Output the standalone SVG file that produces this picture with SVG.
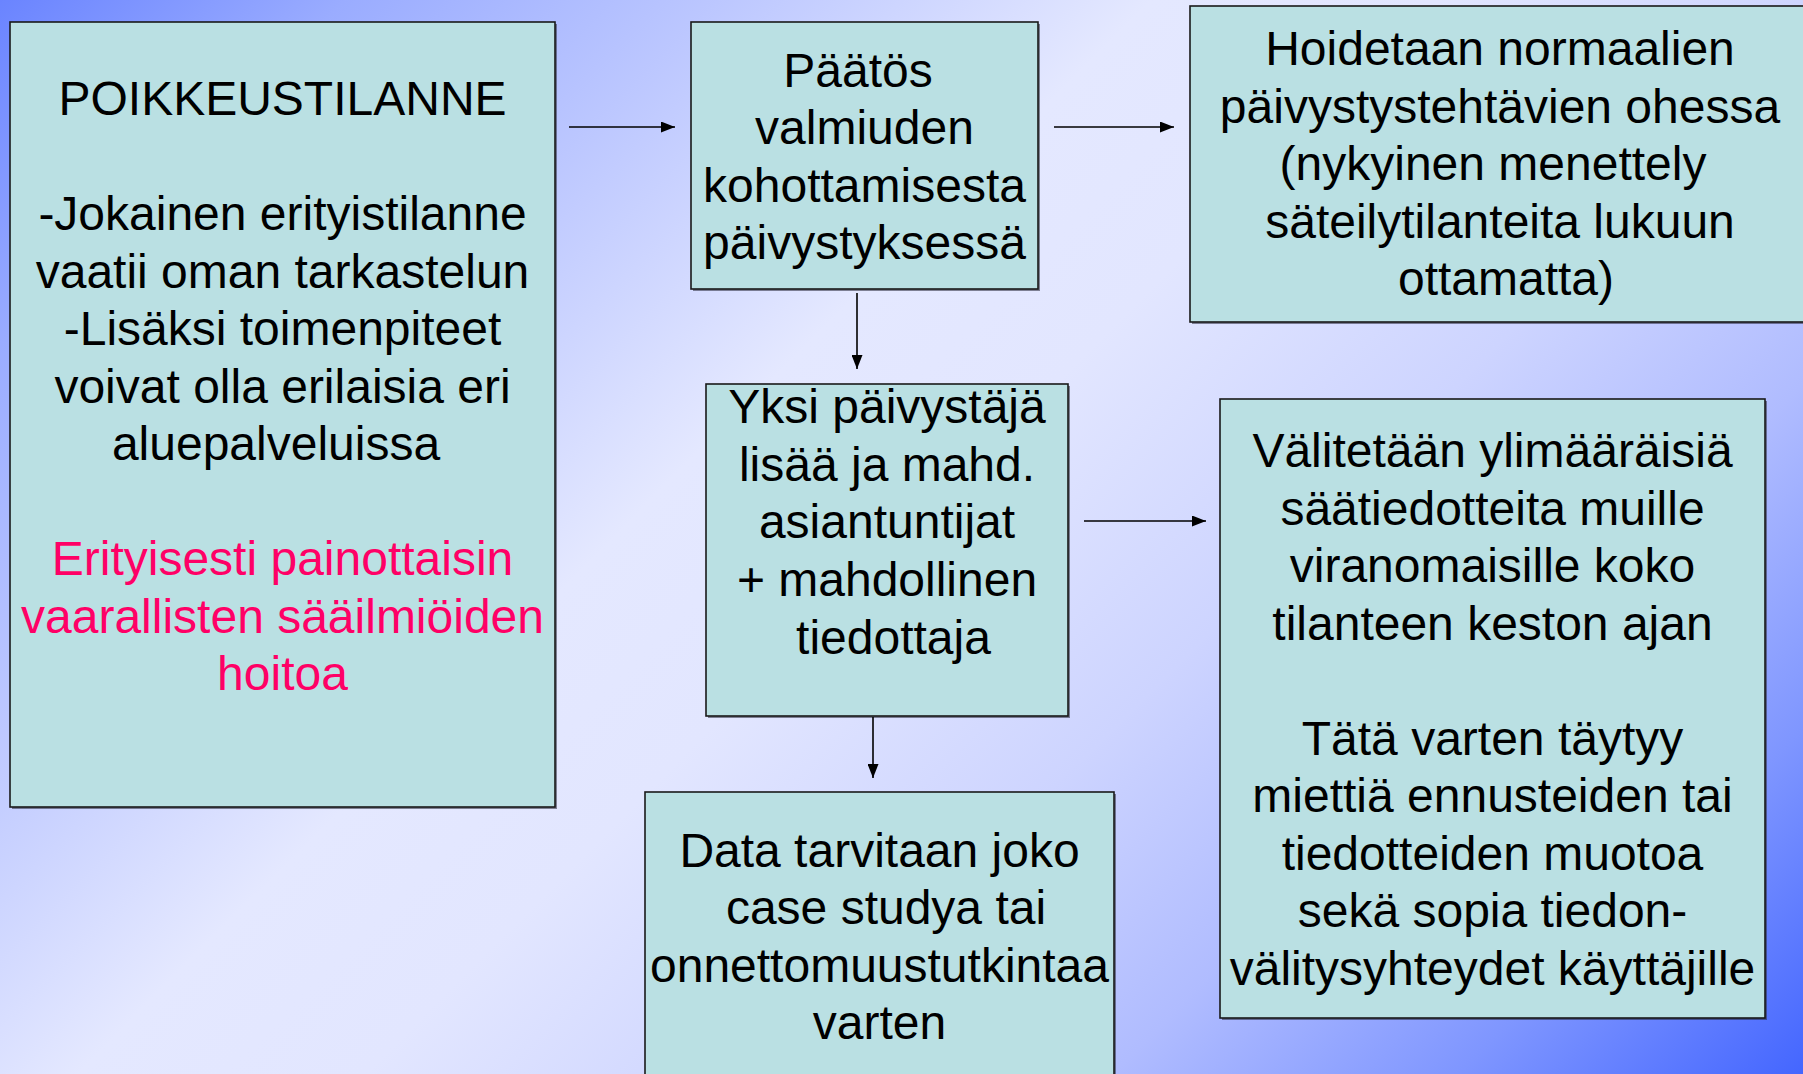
<svg xmlns="http://www.w3.org/2000/svg" width="1803" height="1074" viewBox="0 0 1803 1074">
  <defs>
    <linearGradient id="bg" gradientUnits="userSpaceOnUse" x1="0" y1="0" x2="1438.5" y2="1438.5">
      <stop offset="0" stop-color="#6a84ff"/>
      <stop offset="0.12" stop-color="#9aacff"/>
      <stop offset="0.25" stop-color="#bcc7ff"/>
      <stop offset="0.40" stop-color="#e4e8ff"/>
      <stop offset="0.50" stop-color="#e2e6ff"/>
      <stop offset="0.64" stop-color="#cdd4ff"/>
      <stop offset="0.76" stop-color="#b0bcff"/>
      <stop offset="0.88" stop-color="#7f96ff"/>
      <stop offset="1" stop-color="#4466ff"/>
    </linearGradient>
    <marker id="ah" markerUnits="userSpaceOnUse" markerWidth="14" markerHeight="11" refX="14" refY="5.5" orient="auto">
      <path d="M0,0 L14,5.5 L0,11 Z" fill="#000"/>
    </marker>
  </defs>
  <style>
    .box { fill: #bae0e3; stroke: #1a1a1a; stroke-width: 1.6; }
    .sh { fill: #2a2a3a; opacity: 0.55; }
    .t { font-family: "Liberation Sans", Arial, sans-serif; font-size: 48px; fill: #000; text-anchor: middle; }
    .pink { fill: #ff0066; }
    .conn { stroke: #000; stroke-width: 1.6; fill: none; marker-end: url(#ah); }
  </style>
  <rect x="0" y="0" width="1803" height="1074" fill="url(#bg)"/>

  <g id="poikkeustilanne">
    <rect class="sh" x="12" y="24" width="545" height="785"/>
    <rect class="box" x="10" y="22" width="545" height="785"/>
    <text class="t" x="282.5" y="115">POIKKEUSTILANNE</text>
    <text class="t" x="282.5" y="230">-Jokainen erityistilanne</text>
    <text class="t" x="282.5" y="287.5">vaatii oman tarkastelun</text>
    <text class="t" x="282.5" y="345">-Lisäksi toimenpiteet</text>
    <text class="t" x="282.5" y="402.5">voivat olla erilaisia eri</text>
    <text class="t" x="276" y="460">aluepalveluissa</text>
    <text class="t pink" x="282.5" y="575">Erityisesti painottaisin</text>
    <text class="t pink" x="282.5" y="632.5">vaarallisten sääilmiöiden</text>
    <text class="t pink" x="282.5" y="690">hoitoa</text>
  </g>

  <g id="paatos">
    <rect class="sh" x="693" y="24" width="347" height="267"/>
    <rect class="box" x="691" y="22" width="347" height="267"/>
    <text class="t" x="858" y="86.5">Päätös</text>
    <text class="t" x="864.5" y="144">valmiuden</text>
    <text class="t" x="864.5" y="201.5">kohottamisesta</text>
    <text class="t" x="864.5" y="259">päivystyksessä</text>
  </g>

  <g id="hoidetaan">
    <rect class="sh" x="1192" y="8" width="620" height="316"/>
    <rect class="box" x="1190" y="6" width="620" height="316"/>
    <text class="t" x="1500" y="65">Hoidetaan normaalien</text>
    <text class="t" x="1500" y="122.5">päivystystehtävien ohessa</text>
    <text class="t" x="1493" y="180">(nykyinen menettely</text>
    <text class="t" x="1500" y="237.5">säteilytilanteita lukuun</text>
    <text class="t" x="1506" y="295">ottamatta)</text>
  </g>

  <g id="yksi">
    <rect class="sh" x="708" y="386" width="362" height="332"/>
    <rect class="box" x="706" y="384" width="362" height="332"/>
    <text class="t" x="887" y="423">Yksi päivystäjä</text>
    <text class="t" x="887" y="480.5">lisää ja mahd.</text>
    <text class="t" x="887" y="538">asiantuntijat</text>
    <text class="t" x="887" y="596">+ mahdollinen</text>
    <text class="t" x="893.5" y="653.5">tiedottaja</text>
  </g>

  <g id="valitetaan">
    <rect class="sh" x="1222" y="401" width="545" height="619"/>
    <rect class="box" x="1220" y="399" width="545" height="619"/>
    <text class="t" x="1492.5" y="467">Välitetään ylimääräisiä</text>
    <text class="t" x="1492.5" y="524.5">säätiedotteita muille</text>
    <text class="t" x="1492.5" y="582">viranomaisille koko</text>
    <text class="t" x="1492.5" y="639.5">tilanteen keston ajan</text>
    <text class="t" x="1492.5" y="754.5">Tätä varten täytyy</text>
    <text class="t" x="1492.5" y="812">miettiä ennusteiden tai</text>
    <text class="t" x="1492.5" y="869.5">tiedotteiden muotoa</text>
    <text class="t" x="1492.5" y="927">sekä sopia tiedon-</text>
    <text class="t" x="1492.5" y="984.5">välitysyhteydet käyttäjille</text>
  </g>

  <g id="data">
    <rect class="sh" x="647" y="794" width="469" height="300"/>
    <rect class="box" x="645" y="792" width="469" height="300"/>
    <text class="t" x="879.5" y="866.5">Data tarvitaan joko</text>
    <text class="t" x="886" y="924">case studya tai</text>
    <text class="t" x="879.5" y="981.5">onnettomuustutkintaa</text>
    <text class="t" x="879.5" y="1039">varten</text>
  </g>

  <g id="connectors">
    <line class="conn" x1="569" y1="127" x2="675" y2="127"/>
    <line class="conn" x1="1054" y1="127" x2="1174" y2="127"/>
    <line class="conn" x1="857" y1="293" x2="857" y2="369"/>
    <line class="conn" x1="1084" y1="521" x2="1206" y2="521"/>
    <line class="conn" x1="873" y1="717" x2="873" y2="778"/>
  </g>
</svg>
